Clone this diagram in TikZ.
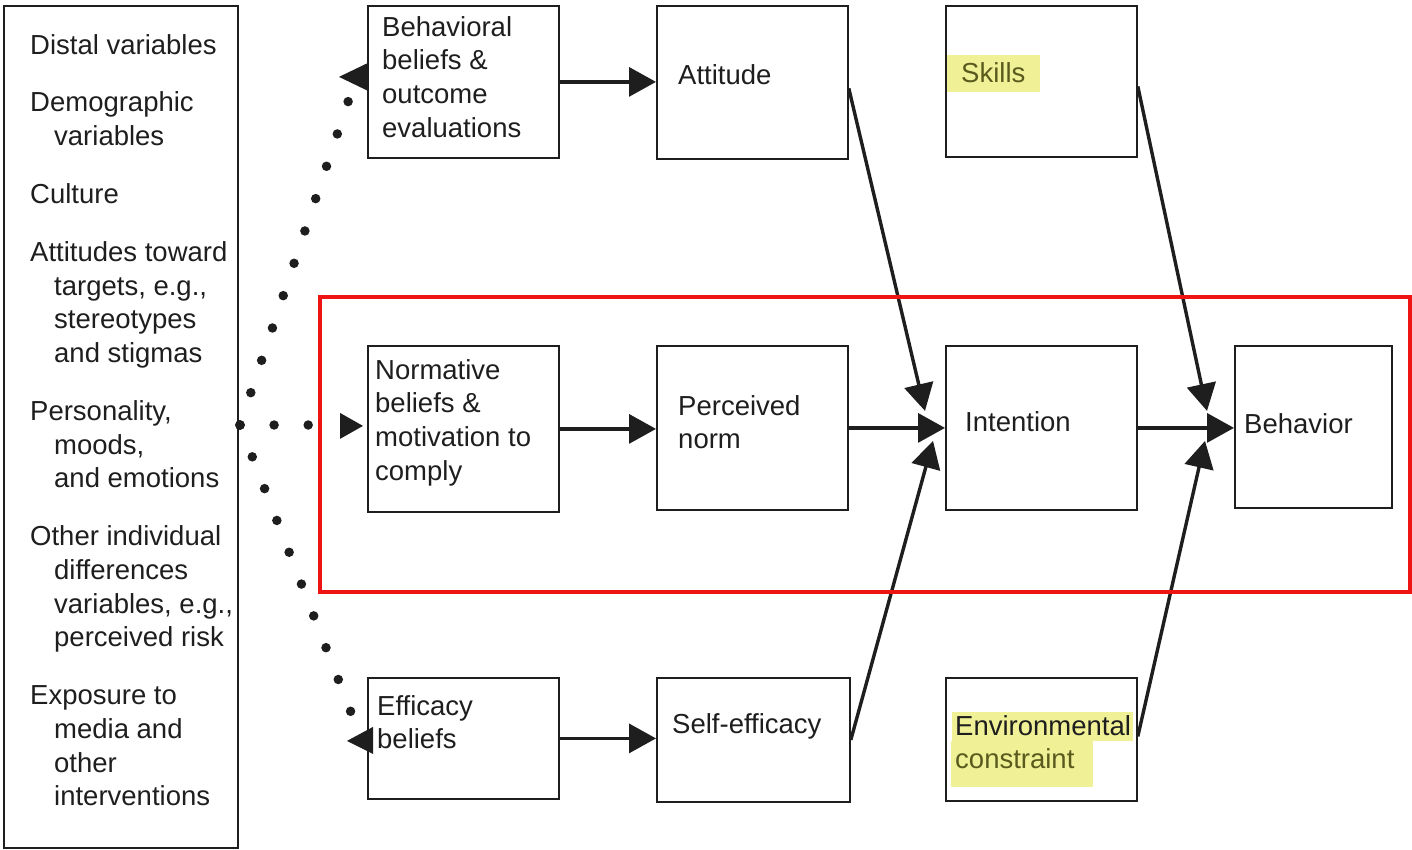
\documentclass[tikz,border=0pt]{standalone}
\usepackage{fontspec}
\setmainfont{Liberation Sans}
\usetikzlibrary{arrows.meta,calc}
\definecolor{ink}{RGB}{30,30,30}
\definecolor{hilite}{RGB}{240,240,150}
\definecolor{olivetext}{RGB}{90,90,30}
\definecolor{frame}{RGB}{238,20,20}
\newcommand{\txtlines}[1]{\begin{tabular}[t]{@{}l@{}}#1\end{tabular}}
\newcommand{\ind}{\hspace*{24pt}}

\begin{document}
\begin{tikzpicture}[x=1pt,y=-1pt,
  box/.style={draw=ink, line width=1.8pt, anchor=north west, inner sep=0pt},
  lbl/.style={anchor=base west, inner sep=0pt, text=ink, font=\fontsize{27.5}{33.7}\selectfont},
  arr/.style={draw=ink, line width=3.4pt, -{Triangle[length=27pt,width=29pt]}},
  dots/.style={draw=ink, line width=9.5pt, line cap=round, dash pattern=on 0pt off 34.1pt}]
\useasboundingbox (0,0) rectangle (1412,849);

% boxes
\node[box, line width=2.2pt, minimum width=234pt, minimum height=842pt] (dist) at (3,5) {};
\node[box, minimum width=191pt, minimum height=152pt] (beh) at (367,5) {};
\node[box, minimum width=191pt, minimum height=153pt] (att) at (656,5) {};
\node[box, minimum width=191pt, minimum height=151pt] (skl) at (945,5) {};
\node[box, minimum width=191pt, minimum height=166pt] (nrm) at (367,345) {};
\node[box, minimum width=191pt, minimum height=164pt] (pn)  at (656,345) {};
\node[box, minimum width=191pt, minimum height=164pt] (int) at (945,345) {};
\node[box, minimum width=157pt, minimum height=162pt] (bhv) at (1234,345) {};
\node[box, minimum width=191pt, minimum height=121pt] (eff) at (367,677) {};
\node[box, minimum width=193pt, minimum height=124pt] (se)  at (656,677) {};
\node[box, minimum width=191pt, minimum height=123pt] (env) at (945,677) {};

% marker highlights
\fill[hilite] (947,55) rectangle (1040,92);
\fill[hilite] (952,712) rectangle (1133,741);
\fill[hilite] (951,741) rectangle (1093,787);

% labels
\node[lbl] (distT) at (30,54) {\txtlines{Distal variables\\[24.2pt]
Demographic\\ \ind variables\\[24.2pt]
Culture\\[24.2pt]
Attitudes toward\\ \ind targets, e.g.,\\ \ind stereotypes\\ \ind and stigmas\\[24.2pt]
Personality,\\ \ind moods,\\ \ind and emotions\\[24.2pt]
Other individual\\ \ind differences\\ \ind variables, e.g.,\\ \ind perceived risk\\[24.2pt]
Exposure to\\ \ind media and\\ \ind other\\ \ind interventions}};
\node[lbl] (behT) at (382,36) {\txtlines{Behavioral\\ beliefs \&\\ outcome\\ evaluations}};
\node[lbl] (attT) at (678,84) {Attitude};
\node[lbl, text=olivetext] (sklT) at (961,82) {Skills};
\node[lbl] (nrmT) at (375,379) {\txtlines{Normative\\ beliefs \&\\ motivation to\\ comply}};
\node[lbl] (pnT) at (678,415) {\txtlines{Perceived\\ norm}};
\node[lbl] (intT) at (965,431) {Intention};
\node[lbl] (bhvT) at (1244,433) {Behavior};
\node[lbl] (effT) at (377,715) {\txtlines{Efficacy\\ beliefs}};
\node[lbl] (seT) at (672,733) {Self-efficacy};
\node[lbl] (envT) at (955,735) {\txtlines{Environmental\\ \textcolor{olivetext}{constraint}}};

% causal arrows
\draw[arr] (beh.east) -- (beh.east -| att.west);
\draw[arr] (nrm.east) -- (nrm.east -| pn.west);
\draw[arr] (eff.east) -- (eff.east -| se.west);
\draw[arr] (pn.east) -- (int.west);
\draw[arr] (int.east) -- (int.east -| bhv.west);
\draw[arr] ($(att.east)+(0,6)$) -- ($(int.west)+(-20,-17)$);
\draw[arr] (se.east) -- ($(int.west)+(-12,13)$);
\draw[arr] ($(skl.east)+(0,5)$) -- ($(bhv.west)+(-27,-16)$);
\draw[arr] ($(env.east)+(0,-3)$) -- ($(bhv.west)+(-29,14)$);

% dotted influences from the distal variables
\coordinate (src) at (240,425);
\coordinate (upEnd) at (349,99);
\coordinate (midEnd) at (318,425);
\coordinate (lowEnd) at (352,715);
\draw[dots] (src) -- (upEnd);
\draw[dots] (src) -- (midEnd);
\draw[dots] (src) -- (lowEnd);
\fill[ink] ($(beh.west)+(0,-18.5)$) -- ($(beh.west)+(-28,-5)$) -- ($(beh.west)+(0,8.5)$) -- cycle;
\fill[ink] ($(nrm.west)+(-27,-16)$) -- ($(nrm.west)+(-4,-3)$) -- ($(nrm.west)+(-27,10)$) -- cycle;
\fill[ink] ($(eff.west)+(6,-11.5)$) -- ($(eff.west)+(-20,2.5)$) -- ($(eff.west)+(6,15.5)$) -- cycle;

% emphasis frame around the normative row
\draw[frame, line width=4pt] (320,297) rectangle (1410,592);
\end{tikzpicture}
\end{document}
